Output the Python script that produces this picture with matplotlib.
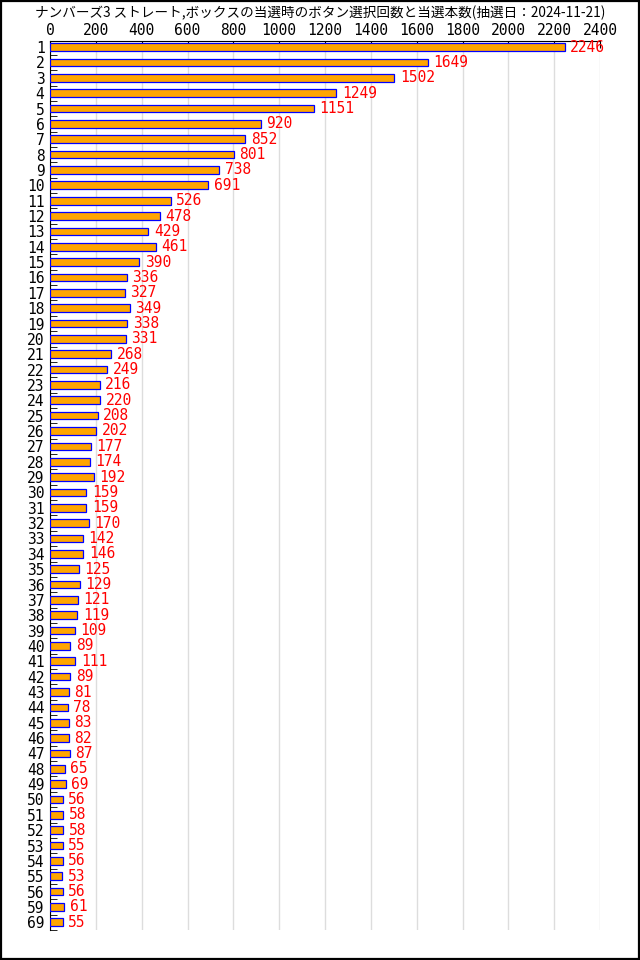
import matplotlib
matplotlib.use("Agg")
import matplotlib.pyplot as plt
import numpy as np

plt.rcParams["font.family"] = ["DejaVu Sans Mono", "Noto Sans CJK JP"]

title = "ナンバーズ3 ストレート,ボックスの当選時のボタン選択回数と当選本数(抽選日：2024-11-21)"
labels = ["1", "2", "3", "4", "5", "6", "7", "8", "9", "10",
          "11", "12", "13", "14", "15", "16", "17", "18", "19", "20",
          "21", "22", "23", "24", "25", "26", "27", "28", "29", "30",
          "31", "32", "33", "34", "35", "36", "37", "38", "39", "40",
          "41", "42", "43", "44", "45", "46", "47", "48", "49", "50",
          "51", "52", "53", "54", "55", "56", "59", "69"]
counts = [2246, 1649, 1502, 1249, 1151, 920, 852, 801, 738, 691,
          526, 478, 429, 461, 390, 336, 327, 349, 338, 331,
          268, 249, 216, 220, 208, 202, 177, 174, 192, 159,
          159, 170, 142, 146, 125, 129, 121, 119, 109, 89,
          111, 89, 81, 78, 83, 82, 87, 65, 69, 56,
          58, 58, 55, 56, 53, 56, 61, 55]

fig = plt.figure(figsize=(6.4, 9.6), dpi=100)
ax = fig.add_axes([50 / 640, 30 / 960, 550 / 640, 889 / 960])

y = np.arange(len(labels))
ax.barh(y, counts, height=0.5, color="#ffa500", edgecolor="#0000ff",
        linewidth=0.9, zorder=3)
for yi, v in zip(y, counts):
    ax.annotate(str(v), (v, yi), xytext=(4, 0), textcoords="offset points",
                va="center", ha="left", color="red", fontsize=10.5,
                family="DejaVu Sans Mono")

ax.set_xlim(0, 2400)
ax.set_ylim(len(labels) - 0.5, -0.4)
ax.set_xticks(np.arange(0, 2401, 200))
ax.xaxis.tick_top()
ax.tick_params(axis="x", direction="in", length=5, labelsize=10.5, pad=2)
ax.set_yticks(y)
ax.set_yticklabels(labels)
ax.set_yticks(np.arange(len(labels)) + 0.5, minor=True)
ax.tick_params(axis="y", which="major", length=0, labelsize=10.5, pad=4)
ax.tick_params(axis="y", which="minor", direction="in", length=5)
ax.grid(axis="x", color="#dddddd", linewidth=1, zorder=0)
ax.spines["right"].set_visible(False)
ax.spines["bottom"].set_visible(False)

fig.text(0.5, 1 - 13 / 960, title, ha="center", va="center", fontsize=9.8,
         family=["Noto Sans CJK JP", "DejaVu Sans"])
fig.patches.append(plt.Rectangle((0.001, 0.001), 0.998, 0.998, transform=fig.transFigure,
                                 fill=False, edgecolor="black", linewidth=1.6))

fig.savefig("out.png", dpi=100)
